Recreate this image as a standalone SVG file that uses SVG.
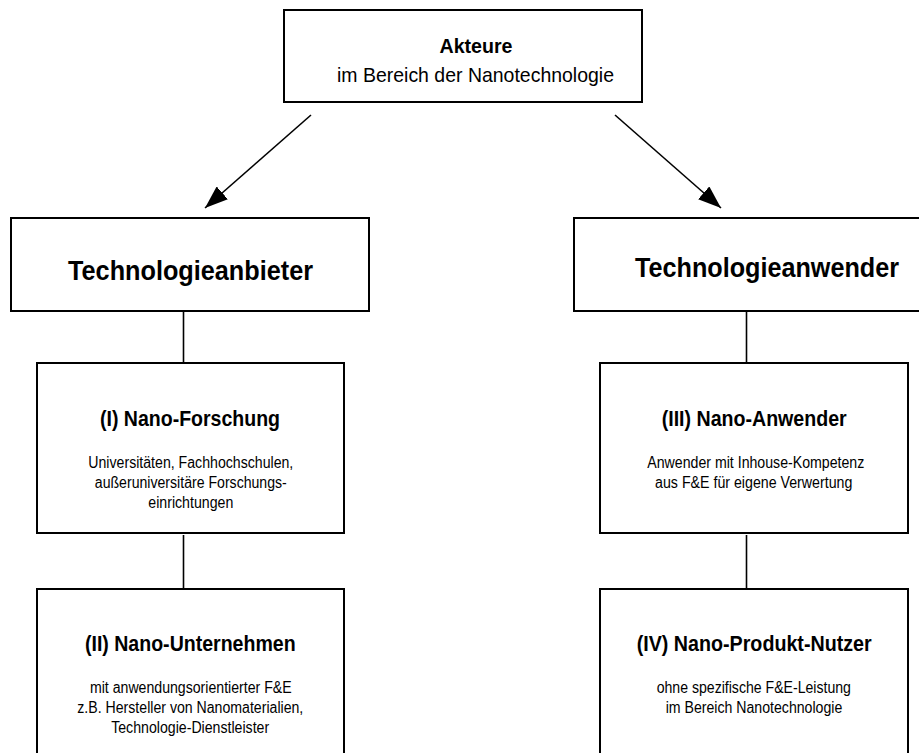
<svg xmlns="http://www.w3.org/2000/svg" width="919" height="753" viewBox="0 0 919 753">
<style>
.box{fill:#fff;stroke:#000;stroke-width:2}
.con{fill:none;stroke:#000;stroke-width:1.6}
text{font-family:"Liberation Sans",Arial,sans-serif;fill:#000;text-anchor:middle}
.b{font-weight:bold}
.h1{font-size:28px;font-weight:bold}
.h2{font-size:22px;font-weight:bold}
.h0{font-size:21px}
.s{font-size:16px}
</style>
<defs>
<marker id="ah" markerUnits="userSpaceOnUse" markerWidth="23" markerHeight="17" viewBox="0 0 23 17" refX="23" refY="8.5" orient="auto">
<path d="M0,0 L23,8.5 L0,17 z" fill="#000"/>
</marker>
</defs>
<rect width="919" height="753" fill="#fff"/>
<g id="connectors">
<line class="con" x1="311" y1="115" x2="205" y2="208" marker-end="url(#ah)"/>
<line class="con" x1="615" y1="115" x2="721" y2="208" marker-end="url(#ah)"/>
<line class="con" x1="183.5" y1="311" x2="183.5" y2="363"/>
<line class="con" x1="183.5" y1="535" x2="183.5" y2="589"/>
<line class="con" x1="746.5" y1="311" x2="746.5" y2="363"/>
<line class="con" x1="746.5" y1="535" x2="746.5" y2="589"/>
</g>
<g id="akteure">
<rect class="box" x="284" y="10" width="358" height="92"/>
<text class="h0 b" x="476" y="53" textLength="73" lengthAdjust="spacingAndGlyphs">Akteure</text>
<text class="h0" x="475.5" y="82" textLength="277" lengthAdjust="spacingAndGlyphs">im Bereich der Nanotechnologie</text>
</g>
<g id="anbieter">
<rect class="box" x="11" y="218" width="358" height="93"/>
<text class="h1" x="190.5" y="280" textLength="245" lengthAdjust="spacingAndGlyphs">Technologieanbieter</text>
</g>
<g id="anwender">
<rect class="box" x="574" y="218" width="347" height="93"/>
<text class="h1" x="767" y="277" textLength="264" lengthAdjust="spacingAndGlyphs">Technologieanwender</text>
</g>
<g id="forschung">
<rect class="box" x="37" y="363" width="307" height="170"/>
<text class="h2" x="190" y="426" textLength="180" lengthAdjust="spacingAndGlyphs">(I) Nano-Forschung</text>
<text class="s" x="190.8" y="468" textLength="205" lengthAdjust="spacingAndGlyphs">Universitäten, Fachhochschulen,</text>
<text class="s" x="190.8" y="488" textLength="192" lengthAdjust="spacingAndGlyphs">außeruniversitäre Forschungs-</text>
<text class="s" x="190.8" y="508" textLength="85" lengthAdjust="spacingAndGlyphs">einrichtungen</text>
</g>
<g id="unternehmen">
<rect class="box" x="37" y="589" width="307" height="220"/>
<text class="h2" x="190.3" y="651" textLength="210.7" lengthAdjust="spacingAndGlyphs">(II) Nano-Unternehmen</text>
<text class="s" x="190.8" y="693" textLength="201.7" lengthAdjust="spacingAndGlyphs">mit anwendungsorientierter F&amp;E</text>
<text class="s" x="190.3" y="713" textLength="226" lengthAdjust="spacingAndGlyphs">z.B. Hersteller von Nanomaterialien,</text>
<text class="s" x="190.2" y="733" textLength="158" lengthAdjust="spacingAndGlyphs">Technologie-Dienstleister</text>
</g>
<g id="nano-anwender">
<rect class="box" x="600" y="363" width="308" height="170"/>
<text class="h2" x="754.2" y="426" textLength="185" lengthAdjust="spacingAndGlyphs">(III) Nano-Anwender</text>
<text class="s" x="755.8" y="468" textLength="217" lengthAdjust="spacingAndGlyphs">Anwender mit Inhouse-Kompetenz</text>
<text class="s" x="753.7" y="488" textLength="197.3" lengthAdjust="spacingAndGlyphs">aus F&amp;E für eigene Verwertung</text>
</g>
<g id="produkt-nutzer">
<rect class="box" x="600" y="589" width="308" height="220"/>
<text class="h2" x="754.2" y="651" textLength="235" lengthAdjust="spacingAndGlyphs">(IV) Nano-Produkt-Nutzer</text>
<text class="s" x="753.8" y="693" textLength="194.3" lengthAdjust="spacingAndGlyphs">ohne spezifische F&amp;E-Leistung</text>
<text class="s" x="754" y="713" textLength="176.6" lengthAdjust="spacingAndGlyphs">im Bereich Nanotechnologie</text>
</g>
</svg>
